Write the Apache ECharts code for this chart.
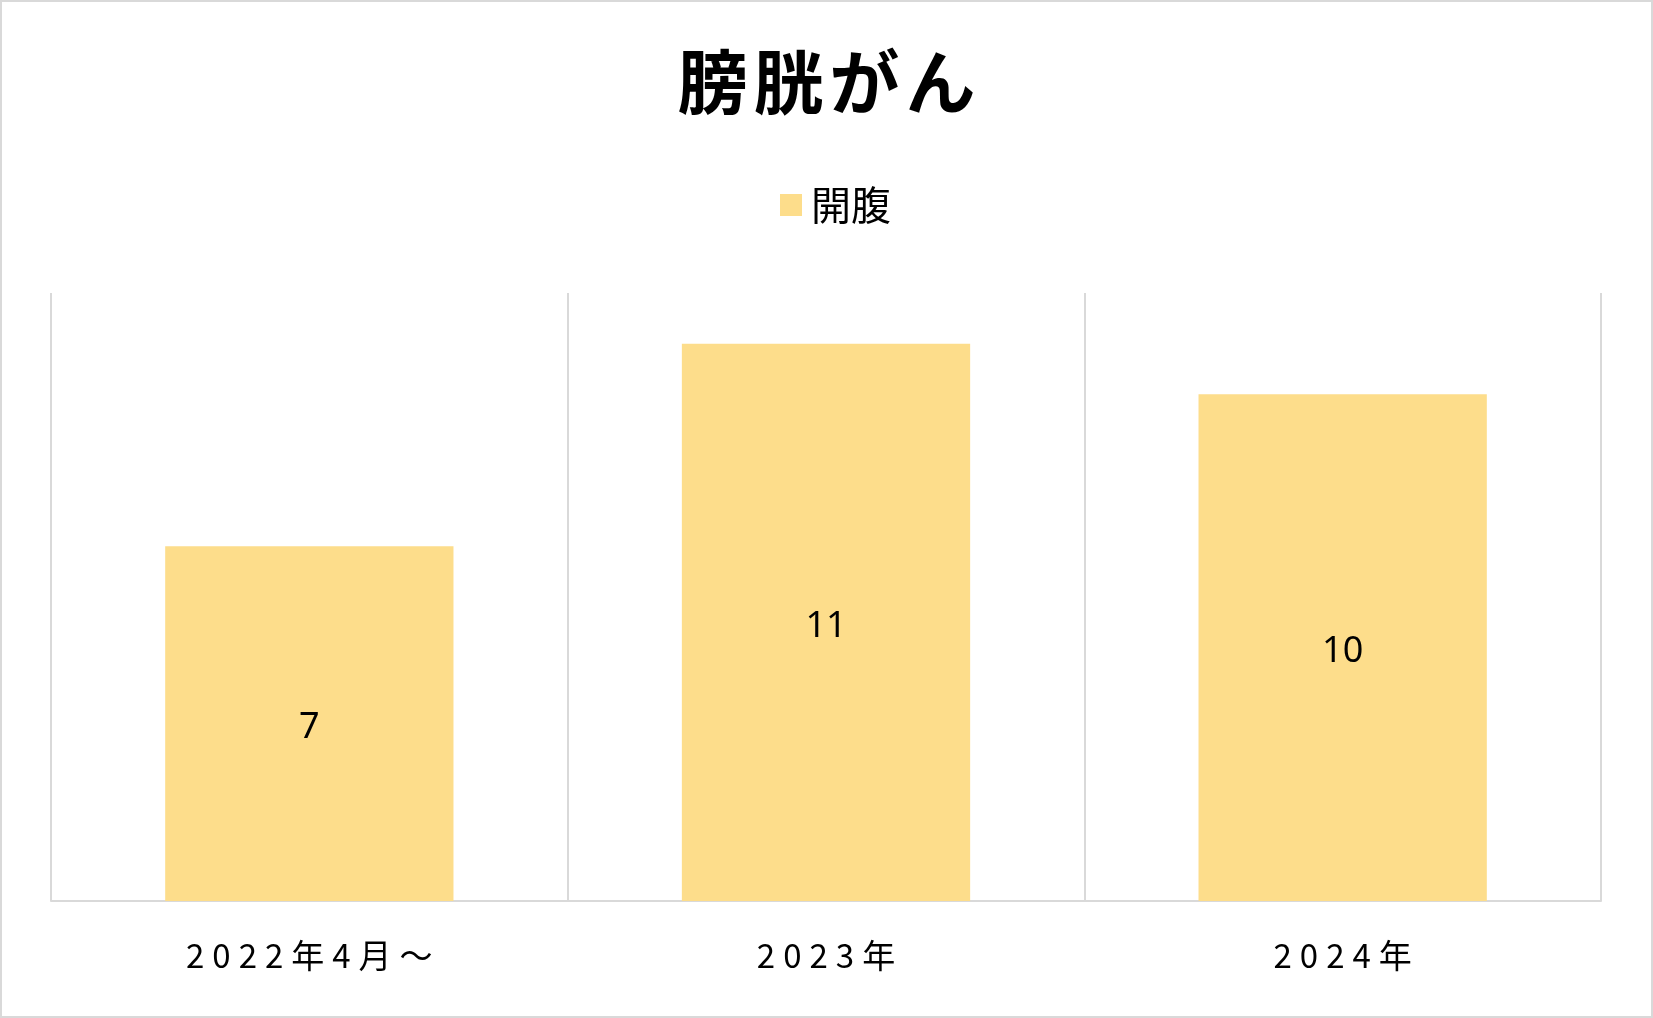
<!DOCTYPE html>
<html>
<head>
<meta charset="utf-8">
<script src="https://cdn.jsdelivr.net/npm/echarts@6/dist/echarts.min.js"></script>
<style>
  html, body { margin: 0; padding: 0; background: #fff; }
  #chart { width: 1653px; height: 1018px; }
</style>
</head>
<body>
<div id="chart"></div>
<script>
// データ
const categories = ['2022年4月〜', '2023年', '2024年'];
const kaifuku = [7, 11, 10];
const seriesName = '開腹';
const titleText = '膀胱がん';

// 文字間を空ける（1文字ずつrichで包む）
function spaced(str, style) {
  return str.split('').map(function (c) { return '{' + style + '|' + c + '}'; }).join('');
}

let myChart = echarts.init(document.getElementById('chart'));
myChart.setOption({
  backgroundColor: '#ffffff',
  animation: false,
  textStyle: { fontFamily: '"Noto Sans CJK JP", sans-serif' },
  title: {
    text: spaced(titleText, 't'),
    left: 'center',
    top: 47,
    padding: 0,
    textStyle: {
      rich: {
        t: { fontSize: 70, fontWeight: 'bold', color: '#000', padding: [0, 3], fontFamily: '"Noto Sans CJK JP"' }
      }
    }
  },
  legend: {
    left: 775,
    top: 180,
    itemWidth: 22,
    itemHeight: 22,
    icon: 'rect',
    itemGap: 10,
    textStyle: { fontSize: 40, color: '#000', padding: [0, 0, 0, 4], fontFamily: '"Noto Sans CJK JP"' },
    data: [seriesName]
  },
  grid: {
    left: 51,
    right: 52,
    top: 293,
    bottom: 117,
    containLabel: false
  },
  xAxis: {
    type: 'category',
    data: categories,
    axisLine: { lineStyle: { color: '#d9d9d9', width: 2 } },
    axisTick: { show: false },
    splitLine: { show: true, lineStyle: { color: '#d9d9d9', width: 2 } },
    axisLabel: {
      margin: 38,
      formatter: function (v) { return spaced(v, 'c'); },
      rich: {
        c: { fontSize: 33, color: '#000', padding: [0, 4], fontFamily: '"Noto Sans CJK JP"' }
      }
    }
  },
  yAxis: {
    type: 'value',
    min: 0,
    max: 12,
    interval: 2,
    show: false,
    splitLine: { show: false }
  },
  series: [{
    name: seriesName,
    type: 'bar',
    data: kaifuku,
    barWidth: '55.8%',
    itemStyle: { color: '#FDDD8B' },
    label: {
      show: true,
      position: 'inside',
      offset: [0, 4],
      fontSize: 36,
      color: '#000',
      fontFamily: '"Noto Sans", sans-serif'
    }
  }],
  graphic: [{
    type: 'rect',
    shape: { x: 1, y: 1, width: 1651, height: 1016 },
    style: { fill: 'none', stroke: '#d9d9d9', lineWidth: 2 },
    silent: true
  }]
});
</script>
</body>
</html>
